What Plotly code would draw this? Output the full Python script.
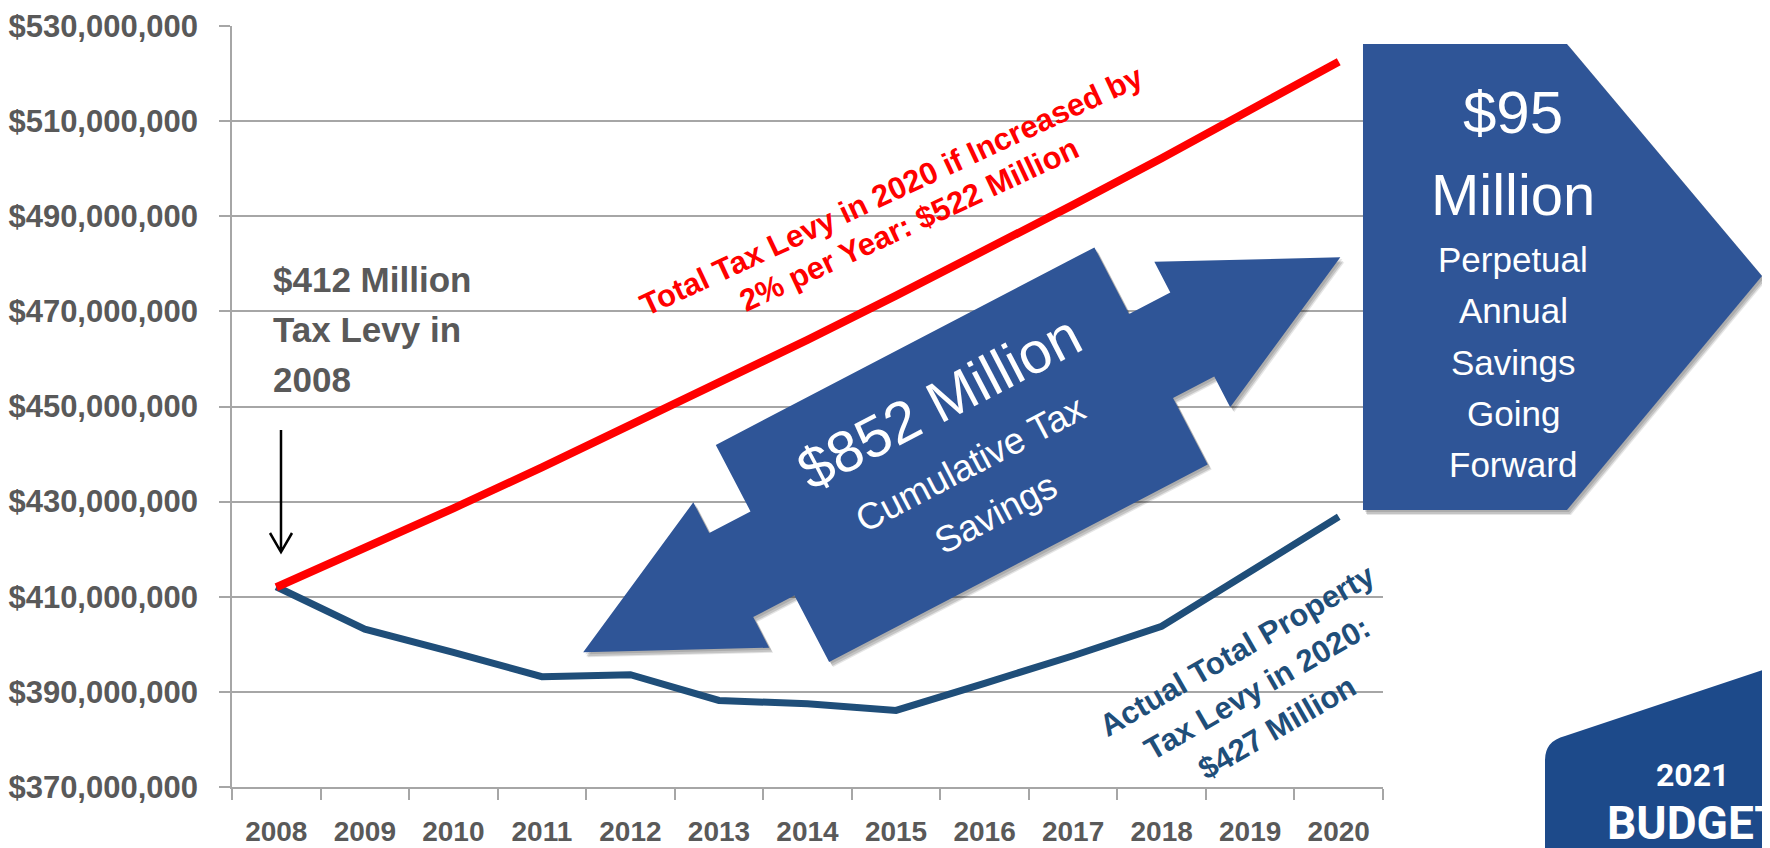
import math
import plotly.graph_objects as go

YEARS = ["2008", "2009", "2010", "2011", "2012", "2013", "2014",
         "2015", "2016", "2017", "2018", "2019", "2020"]

# values, in millions of dollars
LEVY_IF_2PCT = [412.0, 420.2, 428.6, 437.2, 446.0, 454.9, 464.0,
                473.3, 482.7, 492.4, 502.2, 512.3, 522.5]
ACTUAL_LEVY = [412.1, 403.2, 398.3, 393.2, 393.6, 388.2, 387.5,
               386.1, 391.8, 397.6, 403.8, 415.5, 426.8]

Y_MIN, Y_MAX, Y_STEP = 370_000_000, 530_000_000, 20_000_000

FONT = "Liberation Sans, Arial, sans-serif"
LOGO_FONT = "Roboto, Liberation Sans, sans-serif"
GRAY_TEXT = "#595959"
GRID = "#A6A6A6"
BOX_BLUE = "#2F5597"
LINE_BLUE = "#1F4E79"
LOGO_BLUE = "#1D4A8A"

# page size and the default 8px body margin the figure sits inside
PAGE_W, PAGE_H, OFF = 1770, 848, 8
# plot area in page pixels
L, R, T, B = 232, 1383, 26, 787


def px(x):
    return (x - L) / (R - L)


def py(y):
    return (B - y) / (B - T)


def path(points, close=True):
    s = "M " + " L ".join(f"{px(x):.5f},{py(y):.5f}" for x, y in points)
    return s + (" Z" if close else "")


def rotated(points, cx, cy, deg):
    a = math.radians(deg)
    c, s = math.cos(a), math.sin(a)
    return [(cx + u * c + v * s, cy - u * s + v * c) for u, v in points]


def shadowed(points, color, shapes):
    for dx, dy, a in [(4, 5, 0.10), (3, 4, 0.14), (2, 2, 0.12)]:
        shapes.append(dict(type="path", xref="paper", yref="paper", layer="above",
                           path=path([(x + dx, y + dy) for x, y in points]),
                           fillcolor=f"rgba(0,0,0,{a})", line=dict(width=0)))
    shapes.append(dict(type="path", xref="paper", yref="paper", layer="above",
                       path=path(points), fillcolor=color, line=dict(width=0)))


fig = go.Figure()
fig.add_trace(go.Scatter(
    x=YEARS, y=[v * 1e6 for v in ACTUAL_LEVY], mode="lines",
    line=dict(color=LINE_BLUE, width=7), hoverinfo="skip"))
fig.add_trace(go.Scatter(
    x=YEARS, y=[v * 1e6 for v in LEVY_IF_2PCT], mode="lines",
    line=dict(color="#FF0000", width=8), hoverinfo="skip"))

shapes = []

# double headed "cumulative savings" arrow
ARROW_C, ARROW_ANG = (961.75, 454.75), 27.55
arrow_local = [(-427, 0), (-260, -82), (-260, -47.5), (-213.5, -47.5), (-213.5, -122.5),
               (213.5, -122.5), (213.5, -47.5), (260, -47.5), (260, -82), (427, 0),
               (260, 82), (260, 47.5), (213.5, 47.5), (213.5, 122.5), (-213.5, 122.5),
               (-213.5, 47.5), (-260, 47.5), (-260, 82)]
shadowed(rotated(arrow_local, *ARROW_C, ARROW_ANG), BOX_BLUE, shapes)

# "$95 Million" pentagon arrow
shadowed([(1363, 44), (1567, 44), (1762, 276), (1567, 510), (1363, 510)], BOX_BLUE, shapes)

# arrow pointing at 2008
shapes.append(dict(type="path", xref="paper", yref="paper", layer="above",
                   path=path([(281, 430), (281, 552)], close=False) + " " +
                   path([(270, 533), (281, 552), (292, 533)], close=False),
                   line=dict(color="black", width=2.5)))

# budget logo corner
logo = "M {},{} L {},{} Q {},{} {},{} L {},{} L {},{} Z".format(
    px(1545), py(850), px(1545), py(760), px(1545), py(741), px(1565), py(736),
    px(1772), py(667), px(1772), py(850))
shapes.append(dict(type="path", xref="paper", yref="paper", layer="above",
                   path=logo, fillcolor=LOGO_BLUE, line=dict(width=0)))
shapes.append(dict(type="line", xref="paper", yref="paper", layer="above",
                   x0=px(1767), x1=px(1767), y0=py(OFF), y1=py(670),
                   line=dict(color="#243F6B", width=2)))

ann = []


def text(x, y, s, size, color, bold=False, angle=0, anchor="center", family=FONT):
    ann.append(dict(x=px(x), y=py(y), xref="paper", yref="paper", text=s, showarrow=False,
                    textangle=angle, xanchor=anchor, yanchor="middle",
                    font=dict(family=family, size=size, color=color,
                              weight="bold" if bold else "normal")))


for i, line in enumerate(["$412 Million", "Tax Levy in", "2008"]):
    text(271, 279 + 50 * i, line, 35, GRAY_TEXT, bold=True, anchor="left")

text(892, 190, "Total Tax Levy in 2020 if Increased by", 31, "#FF0000", bold=True, angle=-25)
text(909, 224, "2% per Year: $522 Million", 31, "#FF0000", bold=True, angle=-25)

for i, line in enumerate(["Actual Total Property", "Tax Levy in 2020:", "$427 Million"]):
    text(1237 + 20 * i, 650 + 38.5 * i, line, 31, LINE_BLUE, bold=True, angle=-30)

for (u, v), line, size in [((5, -58), "$852 Million", 58),
                           ((4, 12), "Cumulative Tax", 37),
                           ((3, 68), "Savings", 37)]:
    (x, y), = rotated([(u, v)], *ARROW_C, ARROW_ANG)
    text(x, y, line, size, "white", angle=-ARROW_ANG)

text(1513, 112, "$95", 60, "white")
text(1513, 194, "Million", 58, "white")
for i, line in enumerate(["Perpetual", "Annual", "Savings", "Going", "Forward"]):
    text(1513, 259 + 51.5 * i, line, 35, "white")

text(1693, 775, "2021", 32, "white", bold=True, family=LOGO_FONT)
text(1605, 823, "BUDGET", 46, "white", bold=True, anchor="left", family=LOGO_FONT)

fig.update_layout(
    width=PAGE_W - OFF, height=PAGE_H - OFF,
    margin=dict(l=L - OFF, r=PAGE_W - R, t=T - OFF, b=PAGE_H - B),
    paper_bgcolor="white", plot_bgcolor="white",
    showlegend=False,
    font=dict(family=FONT, color=GRAY_TEXT),
    shapes=shapes, annotations=ann,
    xaxis=dict(
        type="category", range=[-0.5, 12.5], tickson="boundaries",
        ticks="outside", ticklen=11, tickcolor=GRID, tickwidth=1.5,
        showgrid=False, showline=True, linecolor=GRID, linewidth=1.5,
        tickfont=dict(size=28, weight="bold", color=GRAY_TEXT),
        ticklabelstandoff=19, automargin=False,
    ),
    yaxis=dict(
        range=[Y_MIN, Y_MAX], dtick=Y_STEP, tick0=Y_MIN,
        tickprefix="$", tickformat=",.0f",
        ticks="outside", ticklen=11, tickcolor=GRID, tickwidth=1.5,
        showgrid=True, gridcolor=GRID, gridwidth=1.5,
        showline=True, linecolor=GRID, linewidth=1.5, zeroline=False,
        tickfont=dict(size=31, weight="bold", color=GRAY_TEXT),
        ticklabelstandoff=15, automargin=False,
    ),
)

fig.write_html("out.html")
